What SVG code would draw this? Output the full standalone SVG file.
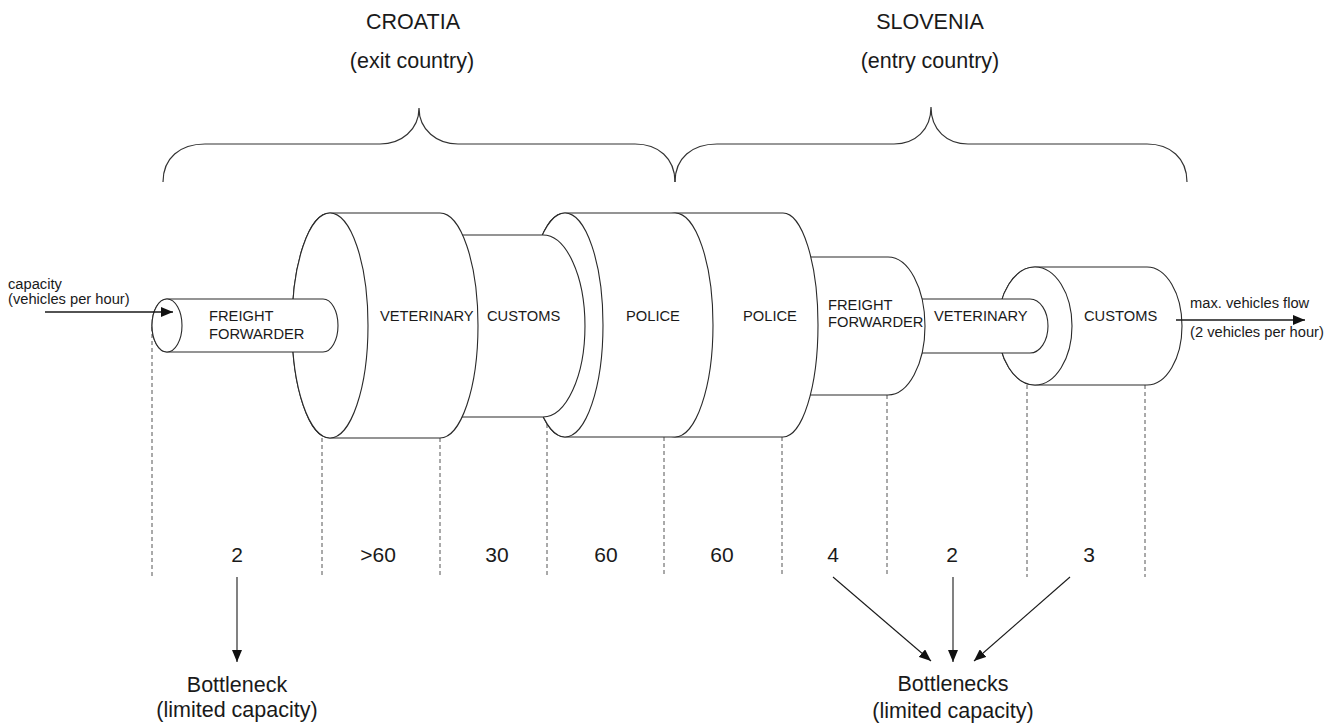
<svg xmlns="http://www.w3.org/2000/svg" width="1341" height="725" viewBox="0 0 1341 725">
<style>
  .cyl { fill: #ffffff; stroke: #2a2a2a; stroke-width: 1.1; }
  .lbl { font-family: "Liberation Sans", Arial, sans-serif; font-size: 14.7px; fill: #1a1a1a; }
  .big { font-family: "Liberation Sans", Arial, sans-serif; font-size: 21.5px; fill: #1a1a1a; text-anchor: middle; }
  .num { font-family: "Liberation Sans", Arial, sans-serif; font-size: 21px; fill: #1a1a1a; text-anchor: middle; }
  .dash { stroke: #555; stroke-width: 1; stroke-dasharray: 4 3; fill: none; }
  .brace { fill: none; stroke: #333; stroke-width: 1.2; }
  .arr { stroke: #1a1a1a; stroke-width: 1.1; fill: none; marker-end: url(#ah); }
</style>
<defs>
  <marker id="ah" viewBox="0 0 12 10" refX="12" refY="5" markerWidth="12" markerHeight="10" markerUnits="userSpaceOnUse" orient="auto">
    <path d="M0,0 L12,5 L0,10 Z" fill="#111"/>
  </marker>
</defs>
<rect width="1341" height="725" fill="#ffffff"/>

<g id="title-croatia">
  <text class="big" x="413" y="29">CROATIA</text>
  <text class="big" x="412" y="68">(exit country)</text>
</g>
<g id="title-slovenia">
  <text class="big" x="930" y="29">SLOVENIA</text>
  <text class="big" x="930" y="68">(entry country)</text>
</g>
<g id="braces">
  <path class="brace" d="M163,182 C163,158 180,144 205,144 L380,144 C401,144 419,130 419,108 C419,130 437,144 458,144 L635,144 C658,144 675,158 675,182"/>
  <path class="brace" d="M675,182 C675,158 692,144 717,144 L894,144 C915,144 931,130 931,107 C931,130 947,144 968,144 L1147,144 C1170,144 1187,158 1187,182"/>
</g>

<g id="dashed-guides">
  <line class="dash" x1="152" y1="327" x2="152" y2="577"/>
  <line class="dash" x1="322" y1="438" x2="322" y2="577"/>
  <line class="dash" x1="440" y1="438" x2="440" y2="577"/>
  <line class="dash" x1="547" y1="417" x2="547" y2="577"/>
  <line class="dash" x1="664" y1="437" x2="664" y2="577"/>
  <line class="dash" x1="782" y1="437" x2="782" y2="577"/>
  <line class="dash" x1="887" y1="395" x2="887" y2="577"/>
  <line class="dash" x1="1027" y1="385" x2="1027" y2="577"/>
  <line class="dash" x1="1145" y1="385" x2="1145" y2="577"/>
</g>

<!-- cylinders, back to front -->
<g id="customs-si">
  <path class="cyl" d="M1035,267 L1147,267 A35,59 0 0 1 1147,385 L1035,385 A37,59 0 0 1 1035,267 Z"/>
  <ellipse class="cyl" cx="1035" cy="326" rx="37" ry="59"/>
  <text class="lbl" x="1084" y="321">CUSTOMS</text>
  <text class="num" x="1089" y="562">3</text>
</g>
<g id="veterinary-si">
  <path class="cyl" d="M888,299 L1030,299 A18,27 0 0 1 1030,353 L888,353 A18,27 0 0 1 888,299 Z"/>
  <text class="lbl" x="934" y="321">VETERINARY</text>
  <text class="num" x="952" y="562">2</text>
</g>
<g id="freight-forwarder-si">
  <path class="cyl" d="M783,257 L888,257 A37,69 0 0 1 888,395 L783,395 A37,69 0 0 1 783,257 Z"/>
  <text class="lbl" x="828" y="310">FREIGHT</text>
  <text class="lbl" x="828" y="327">FORWARDER</text>
  <text class="num" x="833" y="562">4</text>
</g>
<g id="police-si">
  <path class="cyl" d="M675,213 L783,213 A35,112 0 0 1 783,437 L675,437 A38,112 0 0 1 675,213 Z"/>
  <text class="lbl" x="743" y="321">POLICE</text>
  <text class="num" x="722" y="562">60</text>
</g>
<g id="police-hr">
  <path class="cyl" d="M565,213 L675,213 A38,112 0 0 1 675,437 L565,437 A38,112 0 0 1 565,213 Z"/>
  <ellipse class="cyl" cx="565" cy="325" rx="38" ry="112"/>
  <text class="lbl" x="626" y="321">POLICE</text>
  <text class="num" x="606" y="562">60</text>
</g>
<g id="customs-hr">
  <path class="cyl" d="M440,235 L543,235 A42,91 0 0 1 543,417 L440,417 A42,91 0 0 1 440,235 Z"/>
  <text class="lbl" x="487" y="321">CUSTOMS</text>
  <text class="num" x="497" y="562">30</text>
</g>
<g id="veterinary-hr">
  <path class="cyl" d="M330,213 L440,213 A38,112.5 0 0 1 440,438 L330,438 A38,112.5 0 0 1 330,213 Z"/>
  <ellipse class="cyl" cx="330" cy="325.5" rx="38" ry="112.5"/>
  <text class="lbl" x="380" y="321">VETERINARY</text>
  <text class="num" x="378" y="562">&gt;60</text>
</g>
<g id="freight-forwarder-hr">
  <path class="cyl" d="M167,299 L323,299 A15,26.5 0 0 1 323,352 L167,352 A15,26.5 0 0 1 167,299 Z"/>
  <ellipse class="cyl" cx="167" cy="325.5" rx="15" ry="26.5"/>
  <text class="lbl" x="209" y="321">FREIGHT</text>
  <text class="lbl" x="209" y="339">FORWARDER</text>
  <text class="num" x="237" y="562">2</text>
</g>

<g id="input-label">
  <text class="lbl" x="8" y="289">capacity</text>
  <text class="lbl" x="8" y="304">(vehicles per hour)</text>
</g>
<g id="output-label">
  <text class="lbl" x="1190" y="308">max. vehicles flow</text>
  <text class="lbl" x="1190" y="337">(2 vehicles per hour)</text>
</g>
<g id="bottleneck-hr">
  <text class="big" x="237" y="692">Bottleneck</text>
  <text class="big" x="237" y="717">(limited capacity)</text>
</g>
<g id="bottlenecks-si">
  <text class="big" x="953" y="691">Bottlenecks</text>
  <text class="big" x="953" y="718">(limited capacity)</text>
</g>

<g id="connectors">
  <line class="arr" x1="45" y1="312" x2="173" y2="312" style="stroke-width:1.4"/>
  <line class="arr" x1="1176" y1="320" x2="1305" y2="320" style="stroke-width:1.4"/>
  <line class="arr" x1="237" y1="577" x2="237" y2="662"/>
  <line class="arr" x1="833" y1="577" x2="931" y2="661"/>
  <line class="arr" x1="953" y1="577" x2="953" y2="662"/>
  <line class="arr" x1="1070" y1="577" x2="974" y2="661"/>
</g>
</svg>
